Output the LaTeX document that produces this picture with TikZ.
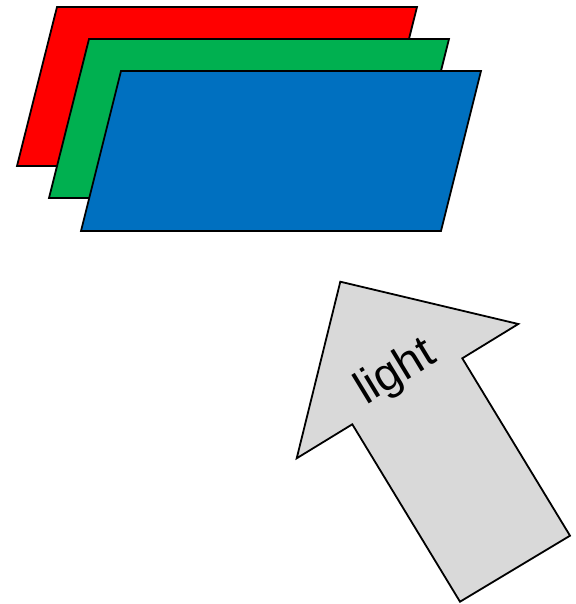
\documentclass[tikz,border=0pt]{standalone}
\usepackage{fontspec}
\setmainfont{Liberation Sans}
\definecolor{pred}{HTML}{FF0000}
\definecolor{pgreen}{HTML}{00B050}
\definecolor{pblue}{HTML}{0070C0}
\definecolor{agray}{HTML}{D9D9D9}
\begin{document}
\begin{tikzpicture}[x=1pt,y=-1pt,
  plate/.style={draw=black,line width=1.8pt,line join=miter},
  lightarrow/.style={draw=black,line width=1.8pt,fill=agray,line join=miter}]
\useasboundingbox (0,0) rectangle (575,604);
\draw[plate,fill=pred]   (57,7)  -- (417,7)  -- (377,166) -- (17,166) -- cycle;
\draw[plate,fill=pgreen] (89,39) -- (449,39) -- (409,198) -- (49,198) -- cycle;
\draw[plate,fill=pblue]  (121,71) -- (481,71) -- (441,231) -- (81,231) -- cycle;
\draw[lightarrow] (340.3,281.7) -- (518.3,324) -- (462.3,358.3) -- (570,535.7)
  -- (460,601.7) -- (352.3,424.3) -- (296.7,458.3) -- cycle;
\node[rotate=31.3,font=\fontsize{46}{52}\selectfont,inner sep=0pt] (lbl) at (396,373) {light};
\end{tikzpicture}
\end{document}
